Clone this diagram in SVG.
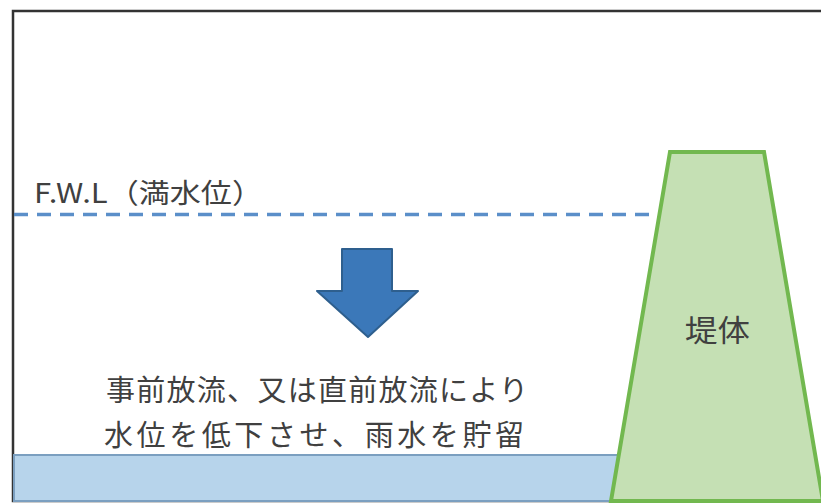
<svg xmlns="http://www.w3.org/2000/svg" width="821" height="503" viewBox="0 0 821 503">
  <style>
    .txt { font-family: "Noto Sans CJK JP", "Noto Sans", sans-serif; fill: #404040; }
  </style>
  <rect x="0" y="0" width="821" height="503" fill="#ffffff"/>
  <g id="frame">
    <rect x="13" y="11" width="820" height="490" fill="none" stroke="#333333" stroke-width="2.5"/>
  </g>
  <g id="water">
    <polygon points="14,455 619,455 611,501 14,501" fill="#b7d4eb" stroke="#7b9fc0" stroke-width="2"/>
  </g>
  <g id="fwl">
    <line x1="14" y1="214.5" x2="662" y2="214.5" stroke="#5b8fc9" stroke-width="3.5" stroke-dasharray="14 9"/>
    <text class="txt" x="34" y="203" font-size="27.5" textLength="229" lengthAdjust="spacingAndGlyphs">F.W.L（満水位）</text>
  </g>
  <g id="dam">
    <polygon points="670,152 764,152 823,501 611,501" fill="#c5e0b4" stroke="#72b84f" stroke-width="4" stroke-linejoin="miter"/>
    <text class="txt" x="685" y="341" font-size="30" textLength="65" lengthAdjust="spacingAndGlyphs">堤体</text>
  </g>
  <g id="arrow">
    <polygon points="342,249 392,249 392,291 418,291 368,337 317,291 342,291" fill="#3b78b9" stroke="#2e5f8e" stroke-width="2" stroke-linejoin="round"/>
  </g>
  <g id="caption">
    <text class="txt" x="106" y="401" font-size="29" textLength="422" lengthAdjust="spacing">事前放流、又は直前放流により</text>
    <text class="txt" x="104" y="446" font-size="29" textLength="420" lengthAdjust="spacing">水位を低下させ、雨水を貯留</text>
  </g>
</svg>
